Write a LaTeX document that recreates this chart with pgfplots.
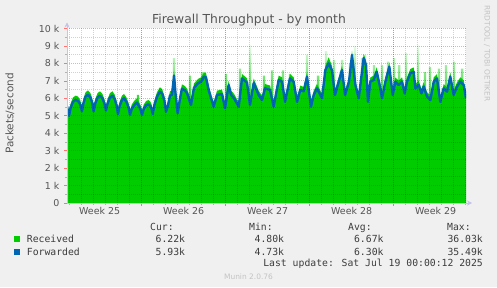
\documentclass[border=0pt]{standalone}
\usepackage{pgfplots}
\pgfplotsset{compat=1.18}
\usepackage{pgfplotstable}
\usepackage{fontspec}
\setmainfont{DejaVu Sans}
\newfontfamily\mono{DejaVu Sans Mono}
\usetikzlibrary{arrows.meta}
\definecolor{bg}{RGB}{240,240,240}
\definecolor{rcv}{RGB}{0,204,0}
\definecolor{fwd}{RGB}{0,102,179}
\definecolor{txt}{RGB}{85,85,85}
\definecolor{ltxt}{RGB}{60,60,60}
\definecolor{axc}{RGB}{195,195,235}
\definecolor{faint}{RGB}{195,195,195}
\pgfdeclareverticalshading{spikefade}{100bp}{color(0bp)=(rcv); color(25bp)=(rcv); color(60bp)=(rcv!75); color(75bp)=(rcv!8); color(100bp)=(rcv!8)}
\pgfplotstableread{
d f r
0.00 5.55 5.80
0.08 5.25 5.50
0.17 5.00 5.25
0.30 5.45 5.70
0.50 5.80 6.05
0.72 5.90 6.15
0.92 5.85 6.10
1.10 5.65 5.90
1.25 5.25 5.50
1.38 5.75 6.00
1.55 6.10 6.35
1.75 6.20 6.45
1.95 6.05 6.30
2.10 5.75 6.00
2.22 5.25 5.50
2.35 5.70 5.95
2.55 6.05 6.30
2.75 6.15 6.40
2.95 6.00 6.25
3.12 5.70 5.95
3.25 5.30 5.55
3.38 5.70 5.95
3.58 6.05 6.30
3.79 6.15 6.40
3.98 5.95 6.20
4.13 5.60 5.85
4.25 5.10 5.35
4.38 5.55 5.80
4.58 5.90 6.15
4.75 6.00 6.25
4.95 5.80 6.05
5.12 5.50 5.75
5.25 5.05 5.30
5.40 5.40 5.65
5.60 5.60 5.85
5.83 5.75 6.00
6.00 5.55 5.80
6.13 5.35 5.60
6.25 5.05 5.30
6.40 5.40 5.65
6.60 5.60 5.85
6.79 5.65 5.90
6.95 5.55 5.80
7.05 5.40 5.65
7.14 5.10 5.35
7.28 5.60 5.85
7.50 6.10 6.35
7.75 6.38 6.63
7.95 6.25 6.50
8.12 5.85 6.10
8.25 5.23 5.48
8.42 5.60 5.85
8.58 6.15 6.40
8.75 6.20 6.45
8.92 7.30 7.55
9.04 6.30 6.55
9.22 5.14 5.39
9.42 6.00 6.25
9.58 6.55 6.80
9.83 6.45 6.70
10.00 6.30 6.55
10.33 5.62 5.87
10.58 6.60 6.85
10.92 6.86 7.11
11.17 6.95 7.20
11.42 7.24 7.49
11.58 7.20 7.45
11.83 6.40 6.65
12.22 5.52 5.77
12.50 6.19 6.44
12.92 6.25 6.50
13.17 5.43 5.68
13.47 6.76 7.01
13.67 6.20 6.45
13.92 6.00 6.25
14.31 5.52 5.77
14.58 7.14 7.39
15.00 6.90 7.15
15.25 5.62 5.87
15.56 6.88 7.13
15.97 6.19 6.44
16.25 5.90 6.15
16.50 6.57 6.82
16.92 6.48 6.73
17.22 5.52 5.77
17.64 7.05 7.30
17.92 6.95 7.20
18.17 5.80 6.05
18.58 7.14 7.39
18.89 6.95 7.20
19.17 5.80 6.05
19.44 6.48 6.73
19.72 6.40 6.65
20.00 7.24 7.49
20.33 5.52 5.77
20.56 6.19 6.44
20.83 6.57 6.82
21.25 6.00 6.25
21.53 7.62 7.87
21.81 8.00 8.35
22.08 7.60 7.85
22.33 6.19 6.44
22.64 6.95 7.20
22.92 7.62 7.87
23.17 6.19 6.44
23.50 6.95 7.20
23.75 8.48 8.73
24.03 6.76 7.01
24.31 6.00 6.25
24.72 8.30 8.55
24.92 7.90 8.15
25.08 5.80 6.05
25.28 6.95 7.20
25.56 7.05 7.30
25.81 7.52 7.77
26.11 6.57 6.82
26.25 6.00 6.25
26.53 6.95 7.20
26.86 7.81 8.06
27.14 6.19 6.44
27.36 6.95 7.20
27.64 6.76 7.01
27.92 6.95 7.20
28.14 6.28 6.53
28.33 6.95 7.20
28.61 7.43 7.68
28.89 7.52 7.77
29.03 6.57 6.82
29.31 6.76 7.01
29.53 6.28 6.53
29.72 6.67 6.92
30.00 6.10 6.35
30.28 5.90 6.15
30.56 6.95 7.20
30.83 7.14 7.39
31.11 5.80 6.05
31.39 6.57 6.82
31.67 6.38 6.63
31.94 7.24 7.49
32.22 6.19 6.44
32.50 6.67 6.92
32.78 6.95 7.20
33.06 6.76 7.01
33.25 6.00 6.25
}\thru
\pgfplotstableread{
d p
5.92 6.2
7.75 6.6
8.92 8.3
10.25 7.3
11.25 7.5
13.25 7.4
14.42 7.7
15.25 9.05
16.42 7.3
17.08 7.6
18.00 7.6
18.58 7.4
20.00 8.5
20.92 7.3
21.58 8.7
22.25 8.2
22.92 8.2
23.58 8.0
24.00 9.0
24.58 8.3
24.83 8.5
25.58 7.9
26.25 7.9
26.75 8.1
27.25 8.3
27.67 7.9
28.25 8.6
29.25 9.05
29.83 7.5
30.25 7.8
31.00 7.7
31.58 7.9
32.25 8.1
32.92 7.7
}\spikes
\begin{document}
\begin{tikzpicture}[x=1bp,y=1bp]
\useasboundingbox (0,0) rectangle (497,287);
\fill[bg] (0,0) rectangle (497,287);
\begin{axis}[
  at={(67bp,84bp)}, anchor=south west,
  scale only axis, width=399bp, height=174.5bp,
  xmin=0, xmax=33.25, ymin=0, ymax=10,
  axis background/.style={fill=white},
  axis on top,
  axis x line=bottom, axis y line=left,
  axis line style={draw=axc, line width=0.8bp, -{Stealth[length=5bp,width=5bp]}, shorten >=-6bp},
  ytick={0,1,...,10},
  yticklabels={0,1 k,2 k,3 k,4 k,5 k,6 k,7 k,8 k,9 k,10 k},
  minor ytick={0.5,1.5,...,9.5},
  xtick={6.22,13.22,20.22,27.22},
  xticklabels={,,,},
  minor xtick={0.22,1.22,...,33.22},
  extra x ticks={2.72,9.72,16.72,23.72,30.72},
  extra x tick labels={Week 25,Week 26,Week 27,Week 28,Week 29},
  extra x tick style={grid=none, major tick length=0pt},
  grid=both,
  major grid style={draw=red, opacity=0.35, dash pattern=on 1bp off 1bp, line width=0.8bp},
  minor grid style={draw=black, opacity=0.18, dash pattern=on 1bp off 1bp, line width=0.8bp},
  tick align=outside,
  major tick length=3bp, minor tick length=2bp,
  major tick style={draw=red!55, line width=0.6bp},
  minor tick style={draw=black!30, line width=0.6bp},
  ticklabel style={font=\fontsize{9.5}{10}\selectfont, text=txt},
  yticklabel style={xshift=-1bp},
  xticklabel style={yshift=-1bp},
  clip=true,
]
\addplot[ybar, bar width=2.4bp, draw=none, shade, shading=spikefade] table[x=d,y=p] {\spikes};
\addplot[draw=none, fill=rcv] table[x=d,y=r] {\thru} \closedcycle;
\addplot[fwd, line width=2.4bp, line join=round] table[x=d,y=f] {\thru};
\end{axis}
\node[anchor=base, text=txt, font=\fontsize{12.4}{14}\selectfont] at (249,263.5) {Firewall Throughput - by month};
\node[rotate=90, text=txt, font=\fontsize{10.5}{12}\selectfont] at (10,173.5) {Packets/second};
\node[rotate=-90, text=faint, font=\fontsize{7.5}{9}\selectfont] at (487,233.5) {RRDTOOL / TOBI OETIKER};
\begin{scope}[every node/.style={text=ltxt, font=\mono\fontsize{9.8}{11}\selectfont, inner sep=0pt}]
\node[anchor=base west] at (150,56.1) {Cur:};
\node[anchor=base west] at (249,56.1) {Min:};
\node[anchor=base west] at (348,56.1) {Avg:};
\node[anchor=base west] at (447,56.1) {Max:};
\fill[rcv] (14,45) rectangle (20,51);
\fill[fwd] (14,32.5) rectangle (20,38.5);
\node[anchor=base west] at (26.7,44.1) {Received};
\node[anchor=base west] at (26.7,31.7) {Forwarded};
\node[anchor=base east] at (185.3,44.1) {6.22k};
\node[anchor=base east] at (284.3,44.1) {4.80k};
\node[anchor=base east] at (383.7,44.1) {6.67k};
\node[anchor=base east] at (483,44.1) {36.03k};
\node[anchor=base east] at (185.3,31.7) {5.93k};
\node[anchor=base east] at (284.3,31.7) {4.73k};
\node[anchor=base east] at (383.7,31.7) {6.30k};
\node[anchor=base east] at (483,31.7) {35.49k};
\node[anchor=base east] at (483,20.1) {Last update: Sat Jul 19 00:00:12 2025};
\end{scope}
\node[anchor=base, text=faint, font=\fontsize{7.5}{9}\selectfont, inner sep=0pt] at (248.5,8) {Munin 2.0.76};
\end{tikzpicture}
\end{document}
